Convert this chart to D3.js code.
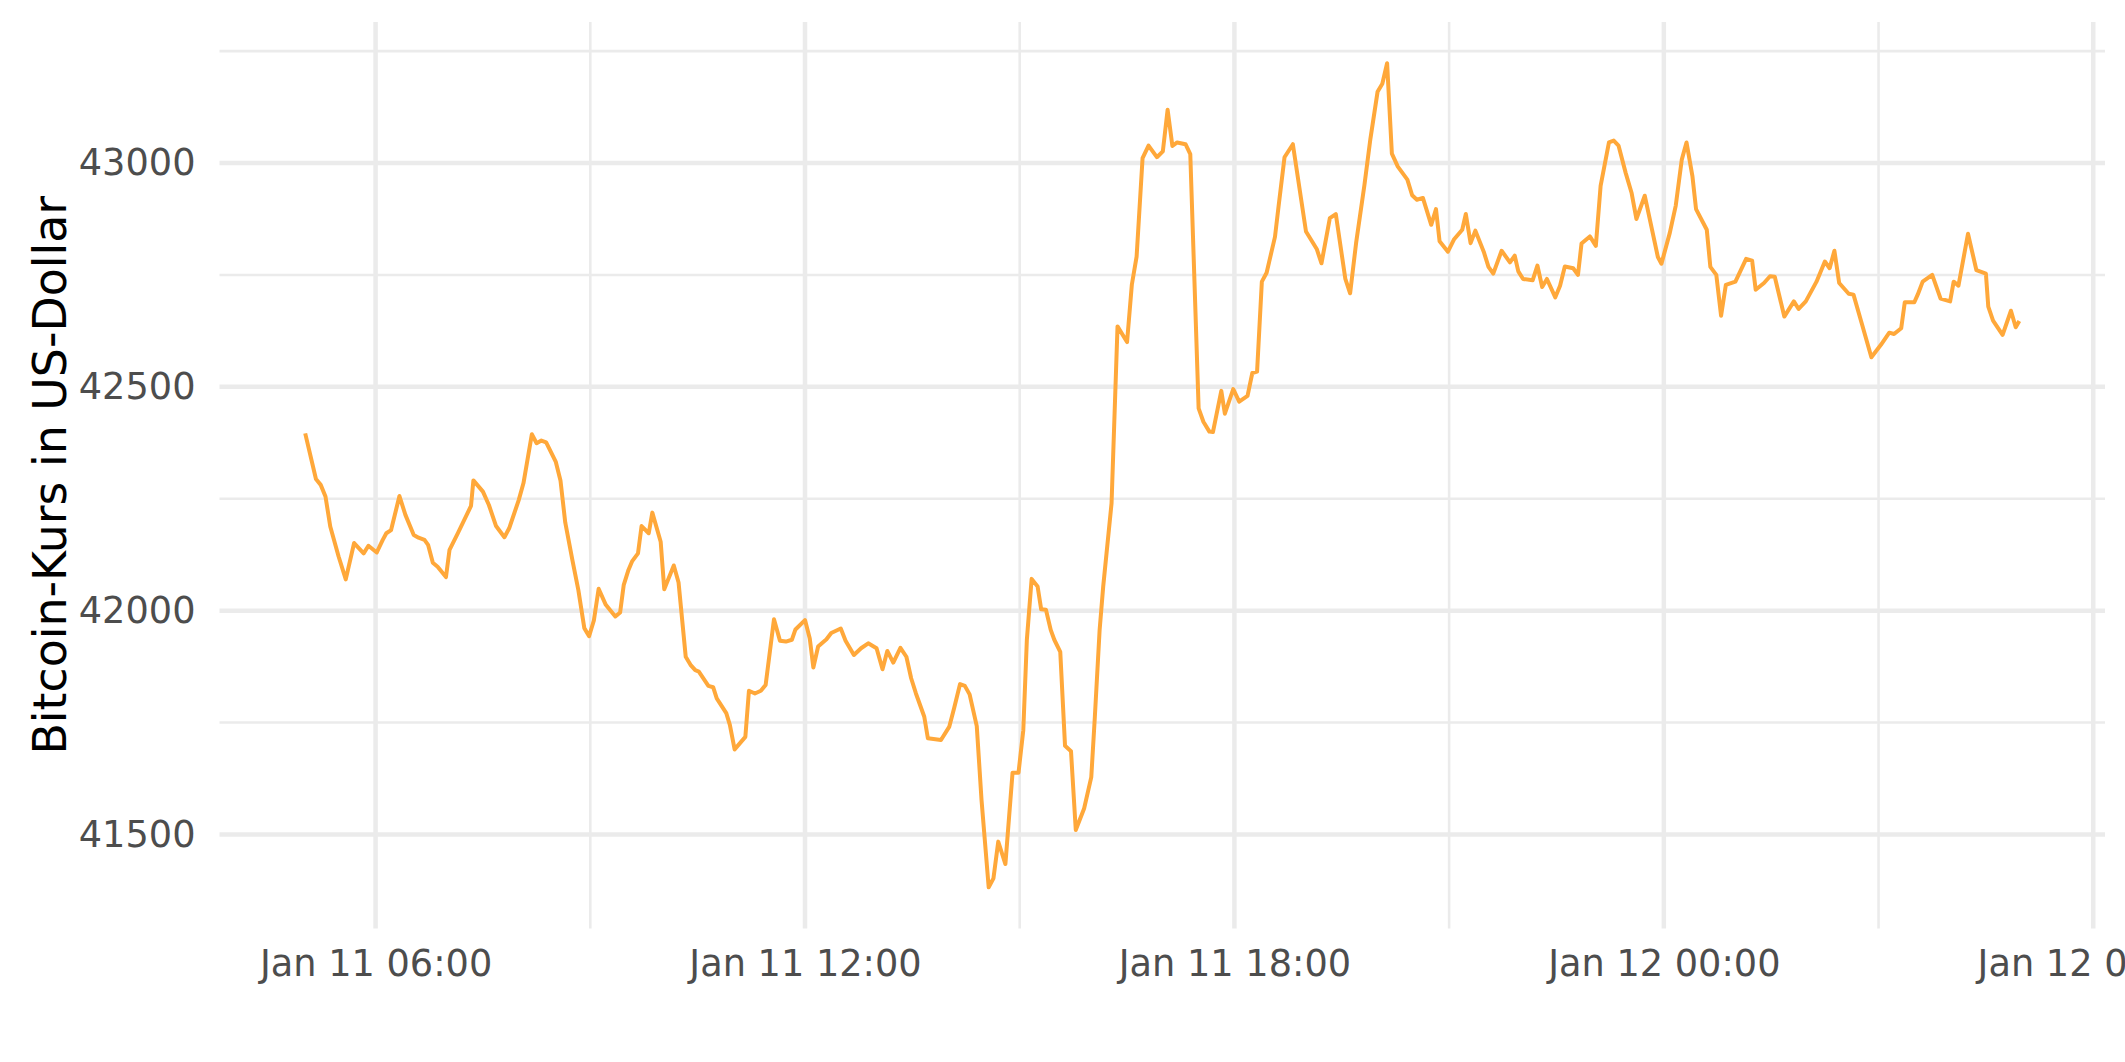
<!DOCTYPE html>
<html>
<head>
<meta charset="utf-8">
<script src="https://cdn.jsdelivr.net/npm/d3@7"></script>
<style>
  html, body { margin: 0; padding: 0; background: #ffffff; }
  svg { display: block; font-family: "DejaVu Sans", sans-serif; }
</style>
</head>
<body>
<svg id="chart" width="2125" height="1062"></svg>
<script>
// ---- data (minutes after the first observation, 2022-01-11 05:01) ----
const startTime = "2022-01-11T05:01:00";
const minutes = [
  0, 9, 13, 17, 21, 28, 34, 41, 49, 53, 60, 65, 68, 72, 79, 84, 91, 95, 100, 103,
  107, 111, 118, 121, 128, 139, 141, 149, 154, 160, 167, 171, 179, 183, 190, 194, 198, 202, 210, 214,
  218, 224, 229, 234, 238, 242, 246, 252, 260, 264, 267, 271, 274, 279, 282, 288, 291, 298, 301, 309,
  313, 319, 323, 327, 330, 338, 342, 345, 353, 356, 360, 369, 372, 377, 382, 386, 393, 398, 403, 408,
  411, 419, 423, 426, 430, 437, 441, 449, 453, 460, 466, 472, 479, 484, 488, 493, 499, 504, 508, 512,
  519, 522, 533, 540, 544, 549, 553, 557, 563, 567, 573, 577, 581, 587, 593, 598, 602, 605, 609, 614,
  617, 621, 625, 628, 633, 637, 642, 646, 653, 659, 662, 666, 669, 676, 681, 689, 693, 697, 702, 707,
  714, 719, 723, 727, 731, 738, 742, 749, 753, 758, 761, 768, 771, 778, 783, 790, 794, 798, 802, 806,
  813, 816, 821, 828, 839, 848, 852, 859, 864, 872, 876, 881, 888, 893, 899, 903, 907, 911, 916, 924,
  928, 932, 937, 944, 948, 951, 958, 963, 970, 973, 977, 981, 988, 992, 996, 1003, 1010, 1014, 1017, 1021,
  1029, 1033, 1037, 1041, 1048, 1052, 1056, 1063, 1067, 1070, 1077, 1082, 1086, 1093, 1097, 1101, 1107, 1112, 1116, 1123,
  1134, 1137, 1144, 1149, 1154, 1158, 1163, 1166, 1175, 1178, 1183, 1187, 1191, 1199, 1208, 1213, 1216, 1223, 1228, 1232,
  1240, 1248, 1252, 1258, 1267, 1274, 1278, 1282, 1286, 1294, 1298, 1305, 1313, 1321, 1328, 1332, 1338, 1341, 1349, 1352,
  1356, 1364, 1371, 1379, 1382, 1386, 1394, 1401, 1409, 1411, 1415, 1423, 1430, 1434, 1437
];
const prices = [
  42396, 42294, 42281, 42255, 42188, 42121, 42070, 42151, 42128, 42145, 42130, 42158, 42173, 42180, 42256, 42214, 42169, 42163, 42158, 42147,
  42107, 42098, 42075, 42136, 42173, 42234, 42291, 42266, 42236, 42189, 42164, 42184, 42247, 42285, 42394, 42374, 42380, 42376, 42333, 42291,
  42197, 42113, 42046, 41961, 41943, 41978, 42049, 42013, 41987, 41996, 42057, 42091, 42110, 42128, 42189, 42173, 42219, 42154, 42048, 42101,
  42063, 41897, 41879, 41867, 41864, 41832, 41829, 41804, 41771, 41745, 41690, 41718, 41821, 41815, 41821, 41834, 41981, 41933, 41931, 41935,
  41958, 41979, 41938, 41873, 41920, 41936, 41950, 41960, 41933, 41901, 41916, 41927, 41916, 41869, 41910, 41884, 41917, 41897, 41849, 41815,
  41763, 41715, 41711, 41741, 41782, 41836, 41832, 41813, 41742, 41577, 41382, 41402, 41484, 41434, 41638, 41638, 41733, 41935, 42071, 42054,
  42003, 42002, 41957, 41935, 41908, 41698, 41686, 41510, 41558, 41628, 41763, 41957, 42054, 42240, 42635, 42600, 42728, 42791, 43011, 43039,
  43013, 43026, 43119, 43038, 43046, 43042, 43020, 42452, 42422, 42400, 42399, 42491, 42440, 42495, 42467, 42480, 42531, 42534, 42735, 42755,
  42835, 42903, 43013, 43042, 42847, 42808, 42776, 42877, 42886, 42741, 42709, 42821, 42951, 43054, 43159, 43177, 43223, 43021, 42992, 42963,
  42928, 42918, 42922, 42862, 42897, 42825, 42802, 42829, 42851, 42886, 42821, 42849, 42802, 42768, 42753, 42804, 42778, 42793, 42758, 42741,
  42738, 42771, 42723, 42741, 42700, 42726, 42769, 42765, 42750, 42820, 42836, 42815, 42949, 43046, 43050, 43039, 42978, 42933, 42875, 42927,
  42790, 42775, 42844, 42905, 43007, 43046, 42970, 42897, 42851, 42768, 42750, 42659, 42728, 42735, 42786, 42782, 42717, 42732, 42747, 42746,
  42657, 42691, 42674, 42691, 42735, 42780, 42765, 42804, 42732, 42708, 42706, 42641, 42566, 42594, 42621, 42618, 42631, 42689, 42689, 42707,
  42735, 42750, 42697, 42691, 42735, 42726, 42842, 42761, 42753, 42679, 42648, 42616, 42670, 42633, 42647
];
const yTicks = [41500, 42000, 42500, 43000];
const yMinorTicks = [41750, 42250, 42750, 43250];
const xTickTimes = ["2022-01-11T06:00:00", "2022-01-11T12:00:00", "2022-01-11T18:00:00", "2022-01-12T00:00:00", "2022-01-12T06:00:00"];
const xMinorTimes = ["2022-01-11T09:00:00", "2022-01-11T15:00:00", "2022-01-11T21:00:00", "2022-01-12T03:00:00"];
const yTitle = "Bitcoin-Kurs in US-Dollar";
const lineColor = "#ffa83a";

// ---- build ----
const t0 = new Date(startTime);
const data = minutes.map((m, i) => ({ t: new Date(t0.getTime() + m * 60000), v: prices[i] }));

const W = 2125, H = 1062;
const margin = { left: 219.5, right: 20, top: 22, bottom: 133.5 };
const pw = W - margin.left - margin.right;
const ph = H - margin.top - margin.bottom;

const svg = d3.select("#chart");
const g = svg.append("g").attr("transform", `translate(${margin.left},${margin.top})`);

const tExt = d3.extent(data, d => d.t);
const tPad = (tExt[1] - tExt[0]) * 0.05;
const x = d3.scaleTime()
  .domain([new Date(tExt[0].getTime() - tPad), new Date(tExt[1].getTime() + tPad)])
  .range([0, pw]);

const vExt = d3.extent(data, d => d.v);
const vPad = (vExt[1] - vExt[0]) * 0.05;
const y = d3.scaleLinear().domain([vExt[0] - vPad, vExt[1] + vPad]).range([ph, 0]);

const xMajor = xTickTimes.map(s => new Date(s));
const xMinor = xMinorTimes.map(s => new Date(s));

// minor grid
g.append("g").selectAll("line").data(yMinorTicks).join("line")
  .attr("x1", 0).attr("x2", pw).attr("y1", d => y(d)).attr("y2", d => y(d))
  .attr("stroke", "#ebebeb").attr("stroke-width", 2.6);
g.append("g").selectAll("line").data(xMinor).join("line")
  .attr("y1", 0).attr("y2", ph).attr("x1", d => x(d)).attr("x2", d => x(d))
  .attr("stroke", "#ebebeb").attr("stroke-width", 2.6);
// major grid
g.append("g").selectAll("line").data(yTicks).join("line")
  .attr("x1", 0).attr("x2", pw).attr("y1", d => y(d)).attr("y2", d => y(d))
  .attr("stroke", "#ebebeb").attr("stroke-width", 4.5);
g.append("g").selectAll("line").data(xMajor).join("line")
  .attr("y1", 0).attr("y2", ph).attr("x1", d => x(d)).attr("x2", d => x(d))
  .attr("stroke", "#ebebeb").attr("stroke-width", 4.5);

// axes (text only, as in theme_minimal)
const fmt = d3.timeFormat("%b %d %H:%M");
const yAxis = g.append("g")
  .call(d3.axisLeft(y).tickValues(yTicks).tickSize(0).tickPadding(24).tickFormat(d3.format("d")));
yAxis.select(".domain").remove();
yAxis.selectAll("text").attr("font-size", 36.7).attr("fill", "#4d4d4d")
  .attr("font-family", "DejaVu Sans, sans-serif");

const xAxis = g.append("g").attr("transform", `translate(0,${ph})`)
  .call(d3.axisBottom(x).tickValues(xMajor).tickSize(0).tickPadding(21).tickFormat(fmt));
xAxis.select(".domain").remove();
xAxis.selectAll("text").attr("font-size", 36.7).attr("fill", "#4d4d4d")
  .attr("font-family", "DejaVu Sans, sans-serif");

// line
const line = d3.line().x(d => x(d.t)).y(d => y(d.v));
g.append("path").datum(data)
  .attr("d", line)
  .attr("fill", "none")
  .attr("stroke", lineColor)
  .attr("stroke-width", 4)
  .attr("stroke-linejoin", "round")
  .attr("stroke-linecap", "butt");

// y title
svg.append("text")
  .attr("transform", `translate(66,${margin.top + ph / 2}) rotate(-90)`)
  .attr("text-anchor", "middle")
  .attr("font-size", 45.8)
  .attr("fill", "#000000")
  .text(yTitle);
</script>
</body>
</html>
